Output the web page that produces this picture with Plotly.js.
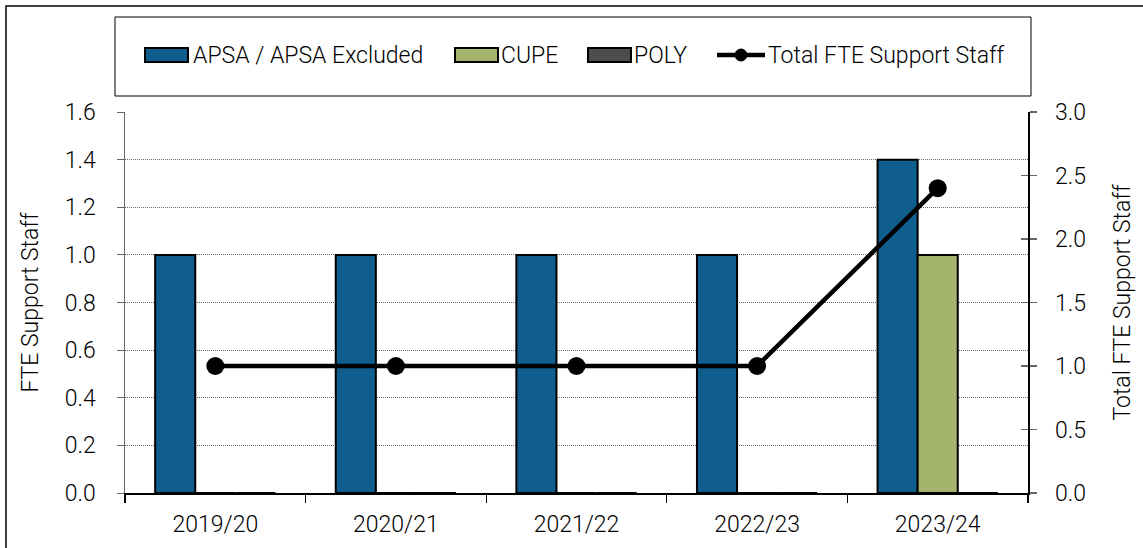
<!DOCTYPE html>
<html>
<head>
<meta charset="utf-8">
<script src="https://cdn.plot.ly/plotly-3.0.1.min.js"></script>
<style>html,body{margin:0;padding:0;background:#fff;}#chart{width:1143px;height:548px;}</style>
</head>
<body>
<div id="chart"></div>
<script>
const categories = ['2019/20', '2020/21', '2021/22', '2022/23', '2023/24'];
const apsa = [1, 1, 1, 1, 1.4];
const cupe = [0, 0, 0, 0, 1];
const poly = [0, 0, 0, 0, 0];
const total = [1, 1, 1, 1, 2.4];
const seriesNames = ['APSA / APSA Excluded', 'CUPE', 'POLY', 'Total FTE Support Staff'];
const leftTitle = 'FTE Support Staff';
const rightTitle = 'Total FTE Support Staff';

const colors = ['#0F5E8E', '#A5B46D', '#4D4D4D'];
const FONT = 'Roboto, "DejaVu Sans Condensed", Arial, sans-serif';
const WEIGHT = 300;

const W = 1143, H = 548;
const L = 125, R = 1028, T = 112, B = 493;
const px = v => (v - L) / (R - L);
const py = v => (B - v) / (B - T);

const barStyle = c => ({color: c, line: {color: '#000', width: 2}});
const traces = [
  {type: 'bar', x: categories, y: apsa, name: seriesNames[0], marker: barStyle(colors[0]), yaxis: 'y'},
  {type: 'bar', x: categories, y: cupe, name: seriesNames[1], marker: barStyle(colors[1]), yaxis: 'y'},
  {type: 'bar', x: categories, y: poly, name: seriesNames[2], marker: barStyle(colors[2]), yaxis: 'y'},
  {type: 'scatter', mode: 'lines+markers', x: categories, y: total, name: seriesNames[3], yaxis: 'y2',
   line: {color: '#000', width: 4.5}, marker: {color: '#000', size: 18, symbol: 'circle'}},
  // invisible trace to drive the inside ticks of the right axis
  {type: 'scatter', mode: 'none', x: categories, y: total, yaxis: 'y3', showlegend: false, hoverinfo: 'skip'}
];

// Manual legend (box + swatches + labels)
const shapes = [
  {type: 'rect', xref: 'paper', yref: 'paper', x0: px(6), x1: px(1160), y0: py(6), y1: py(560), line: {color: '#000', width: 1.5}, layer: 'below'},
  {type: 'rect', xref: 'paper', yref: 'paper', x0: px(115), x1: px(1031), y0: py(17), y1: py(96), line: {color: '#000', width: 1}, fillcolor: '#fff'}
];
const legendItems = [
  {sx: 145, tx: 191, kind: 'bar', ci: 0},
  {sx: 455, tx: 499, kind: 'bar', ci: 1},
  {sx: 588, tx: 632, kind: 'bar', ci: 2},
  {sx: 717, tx: 766, kind: 'line'}
];
const annotations = [];
const LY = 55;
legendItems.forEach((it, i) => {
  if (it.kind === 'bar') {
    shapes.push({type: 'rect', xref: 'paper', yref: 'paper', x0: px(it.sx), x1: px(it.sx + 43), y0: py(LY - 7), y1: py(LY + 7),
      fillcolor: colors[it.ci], line: {color: '#000', width: 2}});
  } else {
    shapes.push({type: 'line', xref: 'paper', yref: 'paper', x0: px(it.sx), x1: px(it.sx + 48), y0: py(LY), y1: py(LY),
      line: {color: '#000', width: 4.5}});
    shapes.push({type: 'circle', xref: 'paper', yref: 'paper', x0: px(it.sx + 18), x1: px(it.sx + 30), y0: py(LY - 6), y1: py(LY + 6),
      fillcolor: '#000', line: {color: '#000', width: 1}});
  }
  annotations.push({xref: 'paper', yref: 'paper', x: px(it.tx), y: py(LY), xanchor: 'left', yanchor: 'middle',
    text: seriesNames[i], showarrow: false, font: {family: FONT, size: 23, color: '#000', weight: WEIGHT}});
});

const tickFont = {family: FONT, size: 23, color: '#000', weight: WEIGHT};
const titleFont = {family: FONT, size: 23, color: '#000', weight: WEIGHT};
const layout = {
  width: W, height: H,
  margin: {l: L, r: W - R, t: T, b: H - B, pad: 0},
  paper_bgcolor: '#fff', plot_bgcolor: '#fff',
  showlegend: false,
  barmode: 'group', bargap: 0.334, bargroupgap: 0,
  font: {family: FONT, color: '#000', weight: WEIGHT},
  xaxis: {type: 'category', tickfont: tickFont, showline: true, linecolor: '#000', linewidth: 1.5,
    ticks: 'outside', tickson: 'boundaries', ticklen: 8, tickcolor: '#000', tickwidth: 1.2,
    showgrid: false, ticklabelstandoff: 10, zeroline: false},
  yaxis: {range: [0, 1.6], dtick: 0.2, tickformat: '.1f', tickfont: tickFont,
    showline: true, linecolor: '#666', linewidth: 1.5, ticks: 'outside', ticklen: 7, tickcolor: '#666', tickwidth: 1,
    showgrid: true, gridcolor: '#666', griddash: '1px,1px', gridwidth: 1, zeroline: false, ticklabelstandoff: 16,
    title: {text: leftTitle, font: titleFont, standoff: 20}},
  yaxis2: {range: [0, 3], dtick: 0.5, tickformat: '.1f', tickfont: tickFont, overlaying: 'y', side: 'right',
    showline: true, linecolor: '#000', linewidth: 1.5, ticks: 'outside', ticklen: 7, tickcolor: '#666', tickwidth: 1.5,
    showgrid: false, zeroline: false, ticklabelstandoff: 14,
    title: {text: rightTitle, font: titleFont, standoff: 29}},
  yaxis3: {range: [0, 3], dtick: 0.5, overlaying: 'y', side: 'right', showticklabels: false,
    showline: false, ticks: 'inside', ticklen: 7, tickcolor: '#666', tickwidth: 1.5, showgrid: false, zeroline: false},
  shapes: shapes,
  annotations: annotations
};

Plotly.newPlot('chart', traces, layout, {displayModeBar: false, staticPlot: true});
</script>
</body>
</html>
